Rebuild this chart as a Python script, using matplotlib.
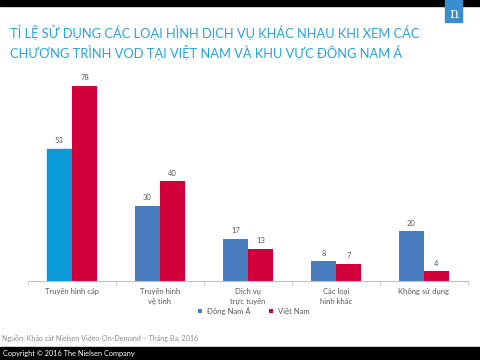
import matplotlib.pyplot as plt
import numpy as np
from matplotlib.patches import Rectangle
from matplotlib.transforms import ScaledTranslation

categories = ['Truyền hình cáp', 'Truyền hình\nvệ tinh', 'Dịch vụ\ntrực tuyến',
              'Các loại\nhình khác', 'Không sử dụng']
sea = [53, 30, 17, 8, 20]
vn = [78, 40, 13, 7, 4]
series_names = ['Đông Nam Á', 'Việt Nam']

blue = '#4a7dbf'
cyan = '#0a9ad8'
red = '#d2003a'
gray = '#595959'

plt.rcParams['font.family'] = ['Lato', 'DejaVu Sans']

fig = plt.figure(figsize=(4.8, 3.6), dpi=100)
ax = fig.add_axes([28/480, 79/360, 440/480, 200/360])

x = np.arange(len(categories))
w = 0.285
b1 = ax.bar(x - w/2, sea, w, color=blue, label=series_names[0])
b1[0].set_color(cyan)
b2 = ax.bar(x + w/2, vn, w, color=red, label=series_names[1])

for rects, vals in ((b1, sea), (b2, vn)):
    for r, v in zip(rects, vals):
        ax.text(r.get_x() + r.get_width()/2, v + 1.8, str(v), ha='center',
                va='bottom', fontsize=5.5, color=gray)

ax.set_xlim(-0.5, len(categories) - 0.5)
ax.set_ylim(0, 80)
ax.set_xticks(x)
ax.set_xticklabels(categories, fontsize=5.5, color=gray, linespacing=1.5)
# labels sit a little right of the bar pairs in the original
shift = ScaledTranslation(4/100, 0, fig.dpi_scale_trans)
for lab in ax.get_xticklabels():
    lab.set_transform(lab.get_transform() + shift)
ax.set_xticks(np.arange(len(categories) + 1) - 0.5, minor=True)
ax.tick_params(axis='x', which='major', length=0, pad=5)
ax.tick_params(axis='x', which='minor', length=3, color='#bfbfbf', direction='out')
ax.set_yticks([])
for s in ['top', 'right', 'left']:
    ax.spines[s].set_visible(False)
ax.spines['bottom'].set_color('#bfbfbf')
ax.spines['bottom'].set_linewidth(0.8)

leg = fig.legend(handles=[b1[1], b2], labels=series_names, loc='center',
                 bbox_to_anchor=(254/480, 1 - 311/360), ncol=2, frameon=False,
                 fontsize=5.5, handlelength=0.5, handleheight=0.5,
                 columnspacing=2.4, handletextpad=0.7)
for t in leg.get_texts():
    t.set_color(gray)

# header band and logo
fig.patches.append(Rectangle((0, 1 - 6/360), 1, 6/360, transform=fig.transFigure,
                             color='black', zorder=0))
fig.patches.append(Rectangle((445/480, 1 - 22/360), 17/480, 22/360,
                             transform=fig.transFigure, color='#3a8ed0', zorder=1))
fig.text(453.5/480, 1 - 14/360, 'n', color='white', fontsize=10, ha='center',
         va='center', family='DejaVu Serif')

fig.text(10/480, 1 - 33/360, 'TỈ LỆ SỬ DỤNG CÁC LOẠI HÌNH DỊCH VỤ KHÁC NHAU KHI XEM CÁC',
         color='#2aa3d9', fontsize=9.3, va='center', ha='left')
fig.text(10/480, 1 - 53/360, 'CHƯƠNG TRÌNH VOD TẠI VIỆT NAM VÀ KHU VỰC ĐÔNG NAM Á',
         color='#2aa3d9', fontsize=9.3, va='center', ha='left')

fig.text(2/480, 1 - 338/360, 'Nguồn: Khảo sát Nielsen Video-On-Demand – Tháng Ba, 2016',
         color='#8c8c8c', fontsize=5.1, va='center', ha='left')

# footer band
fig.patches.append(Rectangle((0, 0), 1, 13/360, transform=fig.transFigure,
                             color='black', zorder=0))
fig.text(3/480, 6.5/360, 'Copyright © 2016 The Nielsen Company', color='white',
         fontsize=5.3, va='center', ha='left')

fig.savefig('out.png', dpi=100)
